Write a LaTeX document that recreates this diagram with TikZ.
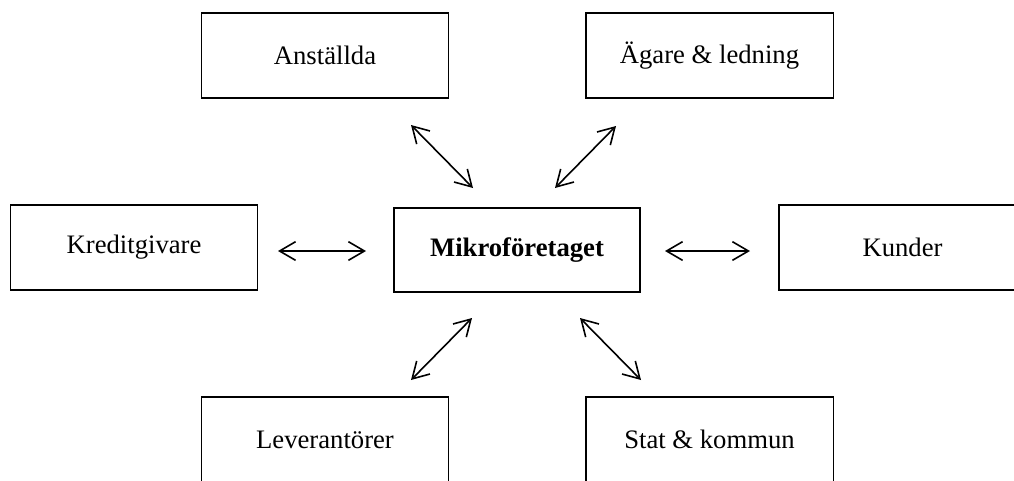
\documentclass[tikz,border=0pt]{standalone}
\usepackage{fontspec}
\setmainfont{Liberation Serif}
\usetikzlibrary{arrows.meta}
\tikzset{
  box/.style={draw, line width=1pt, minimum width=185.5pt, minimum height=63.75pt, inner sep=0pt, font=\fontsize{20}{24}\selectfont},
  mainbox/.style={draw, line width=1.8pt, minimum width=184.5pt, minimum height=63pt, inner sep=0pt, font=\fontsize{20}{24}\selectfont\bfseries},
  link/.style={line width=1.2pt, {Straight Barb[length=12pt,width=14pt]}-{Straight Barb[length=12pt,width=14pt]}}
}
\begin{document}
\begin{tikzpicture}[x=0.75pt,y=-0.75pt]
\useasboundingbox (0,0) rectangle (1014,480);
\node[box] (ans) at (325,55.5) {Anställda};
\node[box] (aga) at (709.5,55.5) {Ägare \& ledning};
\node[box] (kre) at (134,247.5) {Kreditgivare};
\node[mainbox] (mik) at (517,250) {Mikroföretaget};
\node[box] (kun) at (902.5,247.5) {Kunder};
\node[box] (lev) at (325,439.5) {Leverantörer};
\node[box] (sta) at (709.5,439.5) {Stat \& kommun};
\coordinate (a1) at (411,125); \coordinate (a2) at (473,188);
\coordinate (b1) at (616,126); \coordinate (b2) at (555,188);
\coordinate (c1) at (278,251); \coordinate (c2) at (366,251);
\coordinate (d1) at (665,251); \coordinate (d2) at (750,251);
\coordinate (e1) at (472,318); \coordinate (e2) at (411,380);
\coordinate (f1) at (580,318); \coordinate (f2) at (641,380);
\draw[link] (a1) -- (a2);
\draw[link] (b1) -- (b2);
\draw[link] (c1) -- (c2);
\draw[link] (d1) -- (d2);
\draw[link] (e1) -- (e2);
\draw[link] (f1) -- (f2);
\end{tikzpicture}
\end{document}
